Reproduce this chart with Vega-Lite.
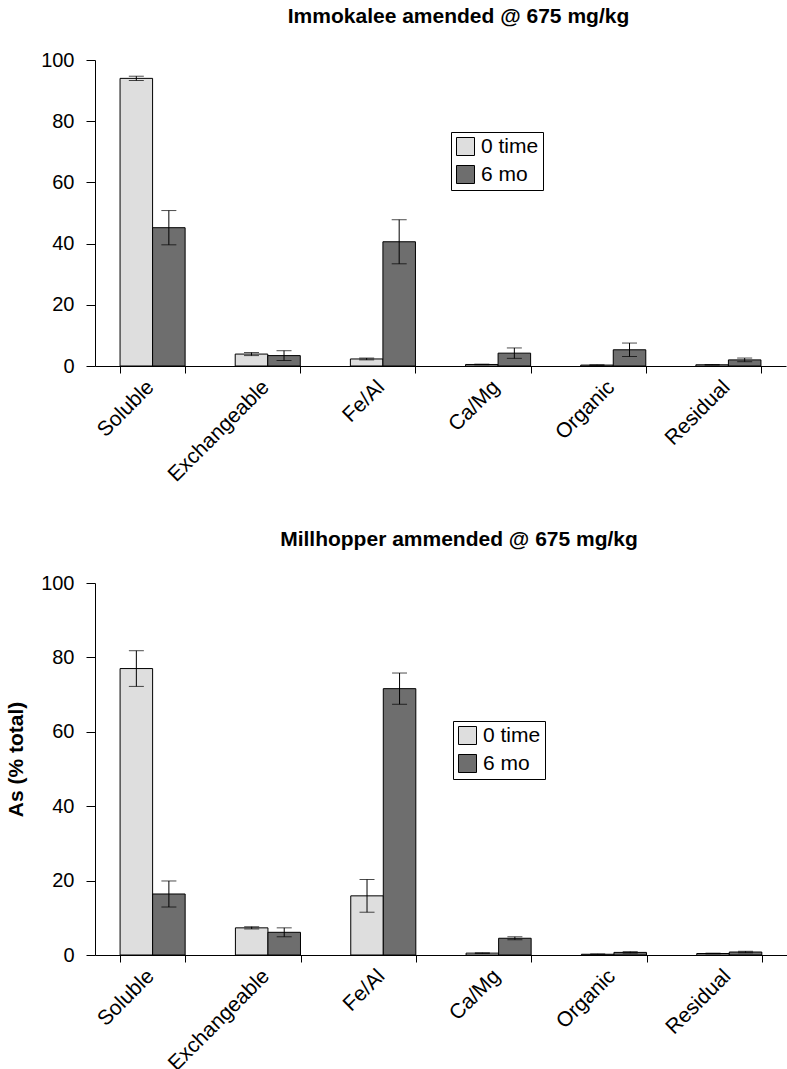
{
  "$schema": "https://vega.github.io/schema/vega-lite/v6.json",
  "background": "white",
  "padding": {"left": 5, "top": 6, "right": 2, "bottom": 0},
  "config": {
    "font": "Liberation Sans",
    "view": {"stroke": null},
    "axis": {"labelColor": "black", "tickColor": "black", "domainColor": "black", "labelFont": "Liberation Sans", "titleColor": "black"},
    "title": {"color": "black", "font": "Liberation Sans"}
  },
  "datasets": {
    "fractions": [
      {"site": "Immokalee", "fraction": "Soluble", "time": "0 time", "mean": 94.0, "lo": 93.3, "hi": 94.7},
      {"site": "Immokalee", "fraction": "Soluble", "time": "6 mo", "mean": 45.2, "lo": 39.6, "hi": 50.8},
      {"site": "Immokalee", "fraction": "Exchangeable", "time": "0 time", "mean": 3.9, "lo": 3.4, "hi": 4.4},
      {"site": "Immokalee", "fraction": "Exchangeable", "time": "6 mo", "mean": 3.4, "lo": 1.8, "hi": 5.0},
      {"site": "Immokalee", "fraction": "Fe/Al", "time": "0 time", "mean": 2.3, "lo": 2.0, "hi": 2.6},
      {"site": "Immokalee", "fraction": "Fe/Al", "time": "6 mo", "mean": 40.6, "lo": 33.4, "hi": 47.8},
      {"site": "Immokalee", "fraction": "Ca/Mg", "time": "0 time", "mean": 0.5, "lo": 0.4, "hi": 0.6},
      {"site": "Immokalee", "fraction": "Ca/Mg", "time": "6 mo", "mean": 4.2, "lo": 2.5, "hi": 5.9},
      {"site": "Immokalee", "fraction": "Organic", "time": "0 time", "mean": 0.3, "lo": 0.2, "hi": 0.4},
      {"site": "Immokalee", "fraction": "Organic", "time": "6 mo", "mean": 5.3, "lo": 3.1, "hi": 7.5},
      {"site": "Immokalee", "fraction": "Residual", "time": "0 time", "mean": 0.4, "lo": 0.3, "hi": 0.5},
      {"site": "Immokalee", "fraction": "Residual", "time": "6 mo", "mean": 2.0, "lo": 1.4, "hi": 2.6},
      {"site": "Millhopper", "fraction": "Soluble", "time": "0 time", "mean": 77.0, "lo": 72.2, "hi": 81.8},
      {"site": "Millhopper", "fraction": "Soluble", "time": "6 mo", "mean": 16.4, "lo": 12.9, "hi": 19.9},
      {"site": "Millhopper", "fraction": "Exchangeable", "time": "0 time", "mean": 7.3, "lo": 7.0, "hi": 7.6},
      {"site": "Millhopper", "fraction": "Exchangeable", "time": "6 mo", "mean": 6.1, "lo": 4.9, "hi": 7.3},
      {"site": "Millhopper", "fraction": "Fe/Al", "time": "0 time", "mean": 15.9, "lo": 11.5, "hi": 20.3},
      {"site": "Millhopper", "fraction": "Fe/Al", "time": "6 mo", "mean": 71.6, "lo": 67.4, "hi": 75.8},
      {"site": "Millhopper", "fraction": "Ca/Mg", "time": "0 time", "mean": 0.5, "lo": 0.4, "hi": 0.6},
      {"site": "Millhopper", "fraction": "Ca/Mg", "time": "6 mo", "mean": 4.5, "lo": 4.1, "hi": 4.9},
      {"site": "Millhopper", "fraction": "Organic", "time": "0 time", "mean": 0.2, "lo": 0.1, "hi": 0.3},
      {"site": "Millhopper", "fraction": "Organic", "time": "6 mo", "mean": 0.7, "lo": 0.5, "hi": 0.9},
      {"site": "Millhopper", "fraction": "Residual", "time": "0 time", "mean": 0.4, "lo": 0.3, "hi": 0.5},
      {"site": "Millhopper", "fraction": "Residual", "time": "6 mo", "mean": 0.8, "lo": 0.6, "hi": 1.0}
    ]
  },
  "spacing": 44,
  "vconcat": [
    {
      "title": {"text": "Immokalee amended @ 675 mg/kg", "fontSize": 21, "fontWeight": "bold", "anchor": "middle", "dx": 18, "offset": 23},
      "width": 691,
      "height": 306,
      "data": {"name": "fractions"},
      "transform": [{"filter": "datum.site == 'Immokalee'"}],
      "encoding": {
        "x": {"field": "fraction", "type": "nominal", "sort": ["Soluble", "Exchangeable", "Fe/Al", "Ca/Mg", "Organic", "Residual"],
          "scale": {"paddingInner": 0.435, "paddingOuter": 0.2175},
          "axis": {"title": null, "labelAngle": -45, "labelAlign": "right", "labelBaseline": "top", "labelFontSize": 21, "labelPadding": 3, "labelOffset": -10, "tickBand": "extent", "tickSize": 7, "domainWidth": 1}},
        "xOffset": {"field": "time", "type": "nominal", "sort": ["0 time", "6 mo"], "scale": {"paddingInner": 0, "paddingOuter": 0}}
      },
      "layer": [
        {
          "mark": {"type": "bar", "stroke": "black", "strokeWidth": 1},
          "encoding": {
            "y": {"field": "mean", "type": "quantitative", "scale": {"domain": [0, 100]},
              "axis": {"title": null, "values": [0, 20, 40, 60, 80, 100], "grid": false, "labelFontSize": 20, "tickSize": 9, "labelPadding": 12}},
            "fill": {"field": "time", "type": "nominal", "scale": {"domain": ["0 time", "6 mo"], "range": ["#dedede", "#6e6e6e"]},
              "legend": {"title": null, "orient": "none", "legendX": 356, "legendY": 72, "strokeColor": "black", "fillColor": "white", "padding": 4, "symbolType": "square", "symbolSize": 324, "symbolStrokeColor": "black", "symbolStrokeWidth": 1, "labelFontSize": 21, "labelColor": "black", "rowPadding": 5, "labelOffset": 5}}
          }
        },
        {
          "mark": {"type": "rule", "color": "black", "strokeWidth": 1},
          "encoding": {"y": {"field": "lo", "type": "quantitative"}, "y2": {"field": "hi"}}
        },
        {
          "mark": {"type": "tick", "color": "black", "thickness": 1, "size": 15},
          "encoding": {"y": {"field": "lo", "type": "quantitative"}}
        },
        {
          "mark": {"type": "tick", "color": "black", "thickness": 1, "size": 15},
          "encoding": {"y": {"field": "hi", "type": "quantitative"}}
        }
      ]
    },
    {
      "title": {"text": "Millhopper ammended @ 675 mg/kg", "fontSize": 21, "fontWeight": "bold", "anchor": "middle", "dx": 18, "offset": 23},
      "width": 692,
      "height": 372,
      "data": {"name": "fractions"},
      "transform": [{"filter": "datum.site == 'Millhopper'"}],
      "encoding": {
        "x": {"field": "fraction", "type": "nominal", "sort": ["Soluble", "Exchangeable", "Fe/Al", "Ca/Mg", "Organic", "Residual"],
          "scale": {"paddingInner": 0.435, "paddingOuter": 0.2175},
          "axis": {"title": null, "labelAngle": -45, "labelAlign": "right", "labelBaseline": "top", "labelFontSize": 21, "labelPadding": 3, "labelOffset": -10, "tickBand": "extent", "tickSize": 7, "domainWidth": 1}},
        "xOffset": {"field": "time", "type": "nominal", "sort": ["0 time", "6 mo"], "scale": {"paddingInner": 0, "paddingOuter": 0}}
      },
      "layer": [
        {
          "mark": {"type": "bar", "stroke": "black", "strokeWidth": 1},
          "encoding": {
            "y": {"field": "mean", "type": "quantitative", "scale": {"domain": [0, 100]},
              "axis": {"title": "As (% total)", "titleFontSize": 21, "titleFontWeight": "bold", "titleY": 176, "values": [0, 20, 40, 60, 80, 100], "grid": false, "labelFontSize": 20, "tickSize": 9, "labelPadding": 12, "titlePadding": 14}},
            "fill": {"field": "time", "type": "nominal", "scale": {"domain": ["0 time", "6 mo"], "range": ["#dedede", "#6e6e6e"]},
              "legend": {"title": null, "orient": "none", "legendX": 358, "legendY": 138, "strokeColor": "black", "fillColor": "white", "padding": 4, "symbolType": "square", "symbolSize": 324, "symbolStrokeColor": "black", "symbolStrokeWidth": 1, "labelFontSize": 21, "labelColor": "black", "rowPadding": 5, "labelOffset": 5}}
          }
        },
        {
          "mark": {"type": "rule", "color": "black", "strokeWidth": 1},
          "encoding": {"y": {"field": "lo", "type": "quantitative"}, "y2": {"field": "hi"}}
        },
        {
          "mark": {"type": "tick", "color": "black", "thickness": 1, "size": 15},
          "encoding": {"y": {"field": "lo", "type": "quantitative"}}
        },
        {
          "mark": {"type": "tick", "color": "black", "thickness": 1, "size": 15},
          "encoding": {"y": {"field": "hi", "type": "quantitative"}}
        }
      ]
    }
  ],
  "resolve": {"scale": {"fill": "independent"}, "legend": {"fill": "independent"}}
}
